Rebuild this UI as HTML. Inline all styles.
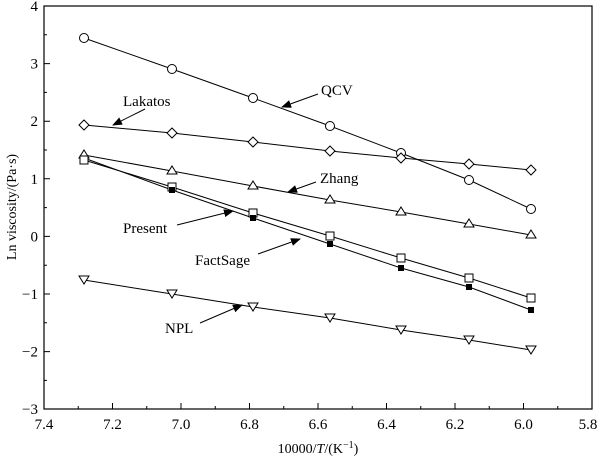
<!DOCTYPE html><html><head><style>body{margin:0;background:#fff}svg{display:block}</style></head><body>
<svg width="600" height="459" xmlns="http://www.w3.org/2000/svg" font-family="Liberation Serif, serif" font-size="15">
<defs><marker id="a" markerWidth="10" markerHeight="8" refX="9" refY="4" orient="auto" markerUnits="userSpaceOnUse"><path d="M0 0L10 4L0 8z" fill="#000"/></marker></defs>
<rect x="44" y="6" width="548" height="403" fill="none" stroke="#000" stroke-width="1.2"/>
<g stroke="#000" stroke-width="1">
<path d="M44 6h6M44 63.6h6M44 121.2h6M44 178.8h6M44 236.4h6M44 294h6M44 351.6h6M44 34.8h3M44 92.4h3M44 150h3M44 207.6h3M44 265.2h3M44 322.8h3M44 380.4h3"/>
<path d="M112.5 409v-6M181 409v-6M249.5 409v-6M318 409v-6M386.5 409v-6M455 409v-6M523.5 409v-6M78.25 409v-3M146.75 409v-3M215.25 409v-3M283.75 409v-3M352.25 409v-3M420.75 409v-3M489.25 409v-3M557.75 409v-3"/>
</g>
<g text-anchor="end">
<text x="38" y="11">4</text><text x="38" y="68.6">3</text><text x="38" y="126.2">2</text><text x="38" y="183.8">1</text><text x="38" y="241.4">0</text><text x="38" y="299">−1</text><text x="38" y="356.6">−2</text><text x="38" y="414">−3</text>
</g>
<g text-anchor="middle">
<text x="44" y="429">7.4</text><text x="112.5" y="429">7.2</text><text x="181" y="429">7.0</text><text x="249.5" y="429">6.8</text><text x="318" y="429">6.6</text><text x="386.5" y="429">6.4</text><text x="455" y="429">6.2</text><text x="523.5" y="429">6.0</text><text x="588" y="429">5.8</text>
<text x="318" y="453" font-size="14">10000/<tspan font-style="italic">T</tspan>/(K<tspan font-size="10" dy="-5">−1</tspan><tspan dy="5">)</tspan></text>
</g>
<text transform="translate(16 207) rotate(-90)" text-anchor="middle" font-size="14">Ln viscosity/(Pa·s)</text>
<g fill="none" stroke="#000" stroke-width="1">
<polyline points="84,38 172,69 253,98 330,126 401,153 469,180 531,209"/>
<polyline points="84,125 172,133 253,142 330,151 401,158 469,164 531,170"/>
<polyline points="84,155 172,171 253,186 330,200 401,212 469,224 531,235"/>
<polyline points="84,158 172,190 253,218 330,244 401,268 469,287 531,310"/>
<polyline points="84,160 172,187 253,213 330,236 401,258 469,278 531,298"/>
<polyline points="84,280 172,294 253,307 330,318 401,330 469,340 531,350"/>
</g>
<g fill="#fff" stroke="#000" stroke-width="1">
<circle cx="84" cy="38" r="4.5"/><circle cx="172" cy="69" r="4.5"/><circle cx="253" cy="98" r="4.5"/><circle cx="330" cy="126" r="4.5"/><circle cx="401" cy="153" r="4.5"/><circle cx="469" cy="180" r="4.5"/><circle cx="531" cy="209" r="4.5"/>
<path d="M84 120l5 5-5 5-5-5zM172 128l5 5-5 5-5-5zM253 137l5 5-5 5-5-5zM330 146l5 5-5 5-5-5zM401 153l5 5-5 5-5-5zM469 159l5 5-5 5-5-5zM531 165l5 5-5 5-5-5z"/>
<path d="M84 150l5 8h-10zM172 166l5 8h-10zM253 181l5 8h-10zM330 195l5 8h-10zM401 207l5 8h-10zM469 219l5 8h-10zM531 230l5 8h-10z"/>
<path d="M80 156h8v8h-8zM168 183h8v8h-8zM249 209h8v8h-8zM326 232h8v8h-8zM397 254h8v8h-8zM465 274h8v8h-8zM527 294h8v8h-8z"/>
<path d="M79 276h10l-5 8zM167 290h10l-5 8zM248 303h10l-5 8zM325 314h10l-5 8zM396 326h10l-5 8zM464 336h10l-5 8zM526 346h10l-5 8z"/>
</g>
<g fill="#000">
<path d="M169 187h6v6h-6zM250 215h6v6h-6zM327 241h6v6h-6zM398 265h6v6h-6zM466 284h6v6h-6zM528 307h6v6h-6z"/>
</g>
<g stroke="#000" stroke-width="1" fill="none" marker-end="url(#a)">
<path d="M318 94L282 107"/><path d="M145 109L113 125"/><path d="M316 182L288 192"/><path d="M177 225L233 211"/><path d="M258 254L300 239"/><path d="M200 323L242 305"/>
</g>
<text x="321" y="95">QCV</text>
<text x="123" y="106">Lakatos</text>
<text x="320" y="183">Zhang</text>
<text x="123" y="233">Present</text>
<text x="195" y="265">FactSage</text>
<text x="165" y="333">NPL</text>
</svg></body></html>
